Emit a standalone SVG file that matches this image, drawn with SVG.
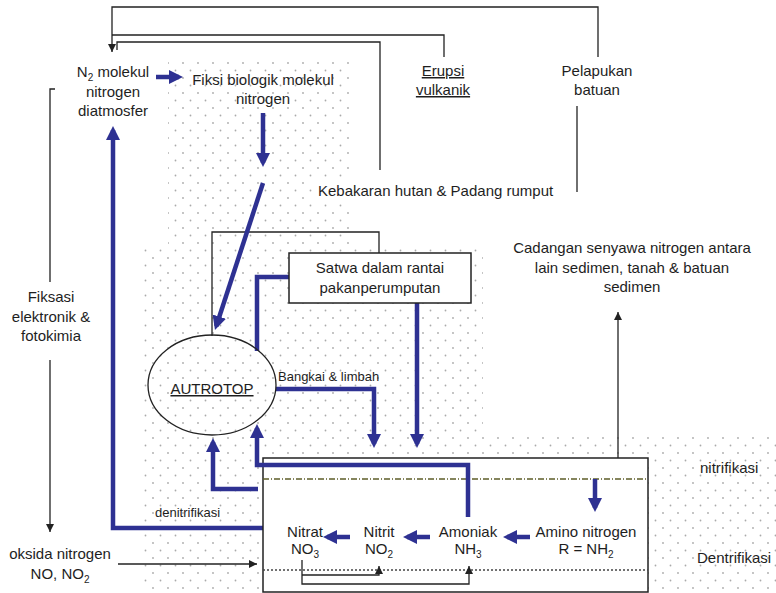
<svg xmlns="http://www.w3.org/2000/svg" width="776" height="593" viewBox="0 0 776 593">
  <defs>
    <style>
      .t { font-family: "Liberation Sans", Arial, sans-serif; font-size: 15px; fill: #1e1e1e; text-anchor: middle; }
      .s { font-size: 13px; }
      .l { text-anchor: start; }
      .u { text-decoration: underline; }
      .blue { stroke: #2e3192; stroke-width: 4.5; fill: none; }
      .thin { stroke: #222; stroke-width: 1.3; fill: none; }
      .box { stroke: #222; stroke-width: 1.5; fill: #fff; }
    </style>
    <pattern id="dots" width="15" height="15" patternUnits="userSpaceOnUse">
      <circle cx="3" cy="3" r="0.9" fill="#aaa"/>
      <circle cx="10.5" cy="10.5" r="0.9" fill="#aaa"/>
    </pattern>
    <marker id="ab" viewBox="0 0 14 14" markerUnits="userSpaceOnUse" markerWidth="14" markerHeight="14" refX="10" refY="7" orient="auto">
      <path d="M0,0 L14,7 L0,14 z" fill="#2e3192"/>
    </marker>
    <marker id="ak" viewBox="0 0 8 8" markerUnits="userSpaceOnUse" markerWidth="8" markerHeight="8" refX="8" refY="4" orient="auto">
      <path d="M0,0 L8,4 L0,8 z" fill="#222"/>
    </marker>
  </defs>

  <rect width="776" height="593" fill="#fff"/>

  <!-- stippled ground -->
  <path d="M168,57 H352 V247 H483 V432 H776 V593 H143 V247 H168 Z" fill="url(#dots)"/>

  <!-- connectors -->
  <g id="connectors">
    <!-- thin black flows -->
    <path class="thin" d="M598,57 V7 H112 V52" marker-end="url(#ak)"/>
    <path class="thin" d="M444,57 V35 H112"/>
    <path class="thin" d="M380,170 V42 H117 V50"/>
    <path class="thin" d="M577,106 V192"/>
    <path class="thin" d="M55,89 H50 V282"/>
    <path class="thin" d="M50,360 V532" marker-end="url(#ak)"/>
    <path class="thin" d="M118,564 H257" marker-end="url(#ak)"/>
    <path class="thin" d="M618,458 V312" marker-end="url(#ak)"/>
    <path class="thin" d="M212,336 V232 H379 V253"/>

    <!-- blue flows -->
    <path class="blue" d="M156,77 H179" marker-end="url(#ab)"/>
    <path class="blue" d="M263,113 V163" marker-end="url(#ab)"/>
    <path class="blue" d="M263,183 L216.2,326.2" marker-end="url(#ab)"/>
    <path class="blue" d="M268,528 H113 V130" marker-end="url(#ab)"/>
    <path class="blue" d="M289,277 H257 V351"/>
    <path class="blue" d="M417,303 V444" marker-end="url(#ab)"/>
    <path class="blue" d="M276,389 H374 V444" marker-end="url(#ab)"/>
    <path class="blue" d="M258,489 H213 V442" marker-end="url(#ab)"/>
  </g>

  <!-- soil compartment -->
  <g id="soil">
    <rect class="box" x="263" y="458" width="385" height="134"/>
    <path d="M263,479 H648" stroke="#5e5e28" stroke-width="1.3" stroke-dasharray="6 2 1 2" fill="none"/>
    <path d="M263,570 H648" stroke="#444" stroke-width="1.3" stroke-dasharray="2 2" fill="none"/>
  </g>

  <g id="soil-connectors">
    <path class="blue" d="M468,517 V465 H257 V428" marker-end="url(#ab)"/>
    <path class="blue" d="M595,479 V508" marker-end="url(#ab)"/>
    <path class="blue" d="M530,537 H507" marker-end="url(#ab)"/>
    <path class="blue" d="M430,537 H407" marker-end="url(#ab)"/>
    <path class="blue" d="M350,537 H327" marker-end="url(#ab)"/>
    <path class="thin" d="M302,560 V584 H469 V566" marker-end="url(#ak)"/>
    <path class="thin" d="M302,575 H379 V566" marker-end="url(#ak)"/>
  </g>

  <g id="n2">
    <text class="t" x="113" y="77">N<tspan font-size="10" dy="4">2</tspan><tspan dy="-4"> molekul</tspan></text>
    <text class="t" x="113" y="97">nitrogen</text>
    <text class="t" x="113" y="116">diatmosfer</text>
  </g>

  <g id="fiksi-biologik">
    <text class="t" x="263" y="85">Fiksi biologik molekul</text>
    <text class="t" x="263" y="104">nitrogen</text>
  </g>

  <g id="erupsi">
    <text class="t u" x="443" y="76">Erupsi</text>
    <text class="t u" x="443" y="95">vulkanik</text>
  </g>

  <g id="pelapukan">
    <text class="t" x="597" y="76">Pelapukan</text>
    <text class="t" x="597" y="95">batuan</text>
  </g>

  <g id="kebakaran">
    <rect x="314" y="181" width="252" height="21" fill="#fff"/>
    <text class="t l" x="318" y="196">Kebakaran hutan &amp; Padang rumput</text>
  </g>

  <g id="cadangan">
    <text class="t" x="632" y="253">Cadangan senyawa nitrogen antara</text>
    <text class="t" x="632" y="273">lain sedimen, tanah &amp; batuan</text>
    <text class="t" x="632" y="292">sedimen</text>
  </g>

  <g id="fiksasi">
    <text class="t" x="51" y="302">Fiksasi</text>
    <text class="t" x="51" y="322">elektronik &amp;</text>
    <text class="t" x="51" y="341">fotokimia</text>
  </g>

  <g id="satwa">
    <rect class="box" x="289" y="253" width="182" height="50"/>
    <text class="t" x="380" y="273">Satwa dalam rantai</text>
    <text class="t" x="380" y="293">pakanperumputan</text>
  </g>

  <g id="autrotop">
    <ellipse cx="212" cy="385" rx="64" ry="50" fill="none" stroke="#222" stroke-width="1.3"/>
    <text class="t u" x="212" y="394">AUTROTOP</text>
  </g>

  <g id="labels">
    <text class="t s l" x="278" y="381">Bangkai &amp; limbah</text>
    <text class="t s l" x="155" y="517">denitrifikasi</text>
    <text class="t l" x="700" y="473">nitrifikasi</text>
    <text class="t l" x="697" y="563">Dentrifikasi</text>
  </g>

  <g id="oksida">
    <text class="t" x="60" y="559">oksida nitrogen</text>
    <text class="t" x="60" y="579">NO, NO<tspan font-size="10" dy="4">2</tspan></text>
  </g>

  <g id="nitrat">
    <text class="t" x="305" y="537">Nitrat</text>
    <text class="t" x="305" y="554">NO<tspan font-size="10" dy="4">3</tspan></text>
  </g>
  <g id="nitrit">
    <text class="t" x="379" y="537">Nitrit</text>
    <text class="t" x="379" y="554">NO<tspan font-size="10" dy="4">2</tspan></text>
  </g>
  <g id="amoniak">
    <text class="t" x="468" y="537">Amoniak</text>
    <text class="t" x="468" y="554">NH<tspan font-size="10" dy="4">3</tspan></text>
  </g>
  <g id="amino">
    <text class="t" x="586" y="537">Amino nitrogen</text>
    <text class="t" x="586" y="554">R = NH<tspan font-size="10" dy="4">2</tspan></text>
  </g>
</svg>
